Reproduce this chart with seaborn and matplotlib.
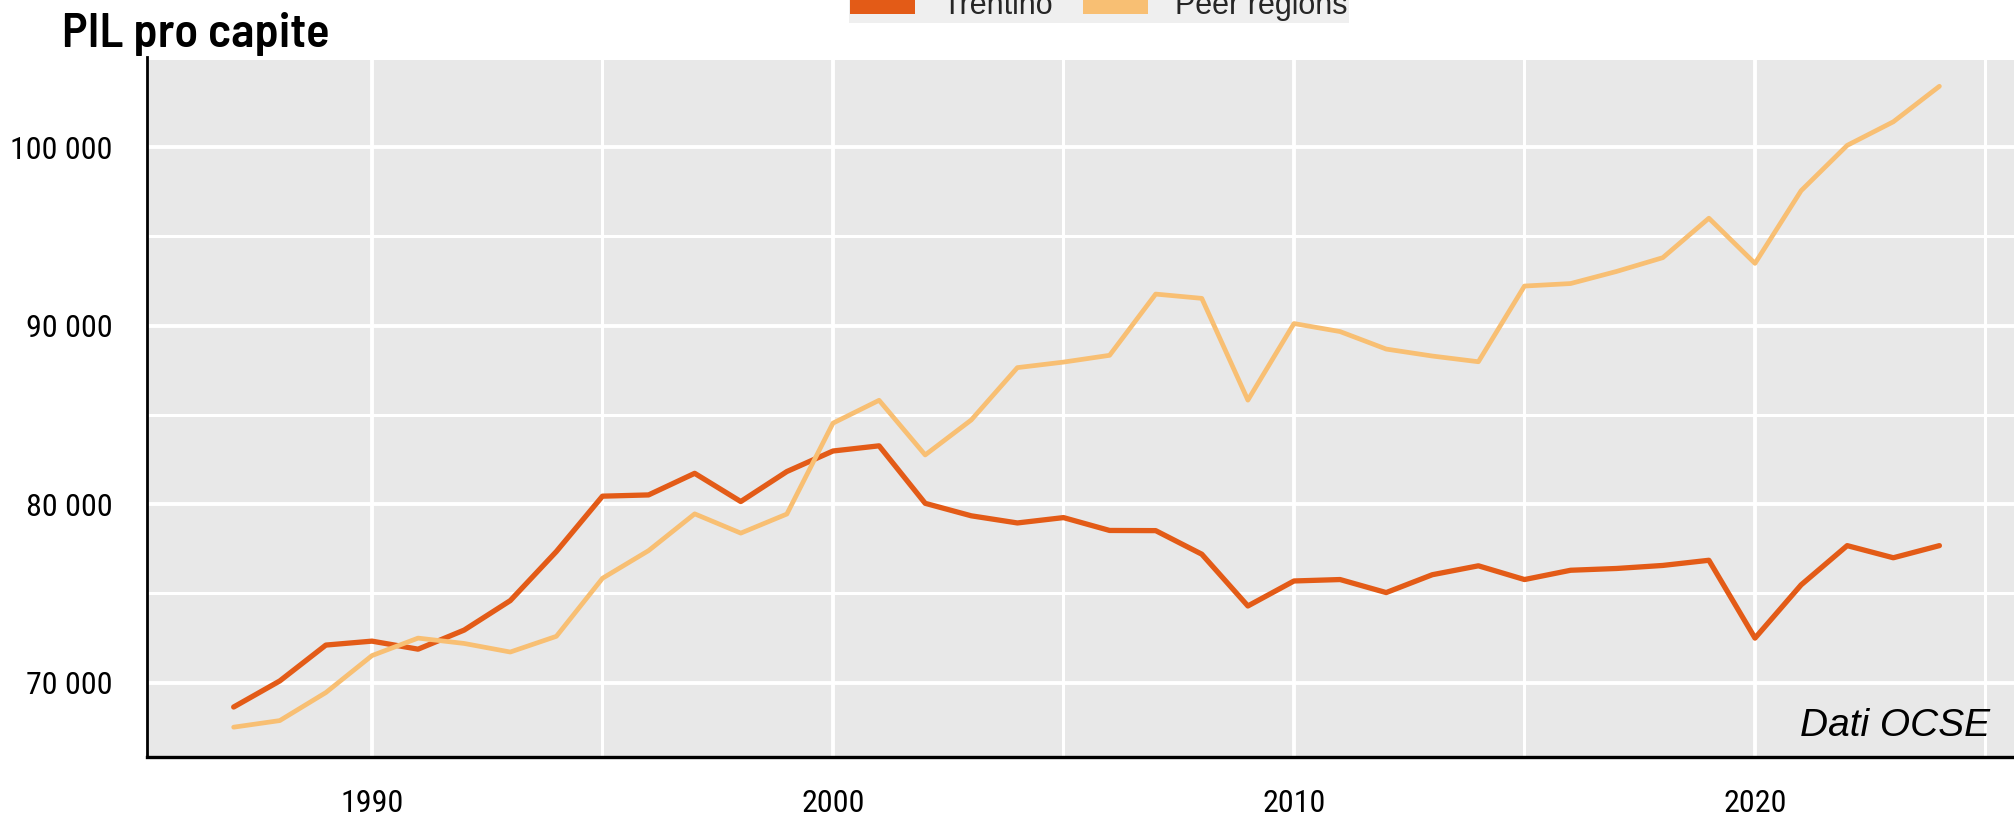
import matplotlib
matplotlib.use("Agg")
import matplotlib.pyplot as plt
from matplotlib.patches import Patch
from matplotlib.ticker import MultipleLocator, FixedLocator, FixedFormatter
import seaborn as sns
import pandas as pd

# ---- data ----
years = list(range(1987, 2025))
trentino = [68640, 70100, 72110, 72330, 71880, 72950, 74600, 77350, 80450, 80520,
            81730, 80150, 81830, 82980, 83270, 80050, 79350, 78950, 79250, 78530,
            78520, 77200, 74300, 75700, 75780, 75050, 76050, 76550, 75780, 76300,
            76400, 76570, 76860, 72500, 75480, 77680, 77000, 77680]
peer = [67510, 67880, 69450, 71520, 72500, 72200, 71720, 72600, 75850, 77400,
        79460, 78380, 79450, 84540, 85820, 82760, 84720, 87650, 87960, 88340,
        91770, 91530, 85830, 90120, 89670, 88690, 88300, 87980, 92220, 92360,
        93040, 93810, 96020, 93490, 97560, 100100, 101420, 103410]
series_names = ["Trentino", "Peer regions"]
colors = ["#E35B17", "#F8BF73"]
ytick_values = [70000, 80000, 90000, 100000]
ytick_labels = ["70 000", "80 000", "90 000", "100 000"]
xtick_values = [1990, 2000, 2010, 2020]
xtick_labels = ["1990", "2000", "2010", "2020"]
title = "PIL pro capite"
source = "Dati OCSE"

df = pd.DataFrame({
    "year": years * 2,
    "value": trentino + peer,
    "series": [series_names[0]] * len(years) + [series_names[1]] * len(years),
})

sns.set_theme(style="darkgrid")
plt.rcParams["font.family"] = ["Liberation Sans", "DejaVu Sans"]

W, H = 2015, 816
fig = plt.figure(figsize=(W / 100, H / 100), dpi=100)
ax = fig.add_axes([147 / W, 1 - 757 / H, 1 - 147 / W, (757 - 57) / H])
ax.set_facecolor("#E8E8E8")

sns.lineplot(data=df, x="year", y="value", hue="series", palette=colors,
             hue_order=series_names, ax=ax, legend=False)
for line, lw in zip(ax.get_lines(), [3.8, 3.4]):
    line.set_linewidth(lw)

ax.set_xlim(1985.12, 2025.64)
ax.set_ylim(65840, 105050)

ax.xaxis.set_major_locator(FixedLocator(xtick_values))
ax.xaxis.set_major_formatter(FixedFormatter(xtick_labels))
ax.yaxis.set_major_locator(FixedLocator(ytick_values))
ax.yaxis.set_major_formatter(FixedFormatter(ytick_labels))
ax.xaxis.set_minor_locator(MultipleLocator(5))
ax.yaxis.set_minor_locator(MultipleLocator(5000))

ax.grid(which="major", color="white", linewidth=2.8)
ax.grid(which="minor", color="white", linewidth=2.2)
ax.set_axisbelow(True)

for s in ["top", "right"]:
    ax.spines[s].set_visible(False)
for s in ["left", "bottom"]:
    ax.spines[s].set_visible(True)
    ax.spines[s].set_color("black")
ax.spines["left"].set_linewidth(2.0)
ax.spines["bottom"].set_linewidth(2.4)

ax.tick_params(which="major", direction="in", width=2.0, color="black",
               labelsize=23, labelcolor="black")
ax.tick_params(axis="x", which="major", pad=23, length=6)
ax.tick_params(axis="y", which="major", pad=25, length=8.5)
ax.tick_params(which="minor", length=0)
for lab in ax.get_xticklabels() + ax.get_yticklabels():
    lab.set_fontfamily(["Roboto Condensed", "Liberation Sans", "DejaVu Sans"])

ax.set_xlabel("")
ax.set_ylabel("")

fig.text(62 / W, 1 - 47 / H, title, ha="left", va="baseline",
         fontsize=35, fontweight=600,
         family=["Barlow Semi Condensed", "Liberation Sans", "DejaVu Sans"], color="black")
fig.text(1990 / W, 1 - 736 / H, source, ha="right", va="baseline",
         fontsize=28, fontstyle="italic", family=["Liberation Sans", "DejaVu Sans"], color="black")

handles = [Patch(facecolor=c, edgecolor="none") for c in colors]
fig.legend(handles, series_names, loc="lower center",
           bbox_to_anchor=(1099 / W, 1 - 23 / H), ncol=2, frameon=True,
           facecolor="#EFEFEF", edgecolor="none", fancybox=False, framealpha=1,
           fontsize=22, handlelength=2.1, handletextpad=0.9, columnspacing=1.0,
           borderpad=0.05, borderaxespad=0)

fig.savefig("out.png", dpi=100)
